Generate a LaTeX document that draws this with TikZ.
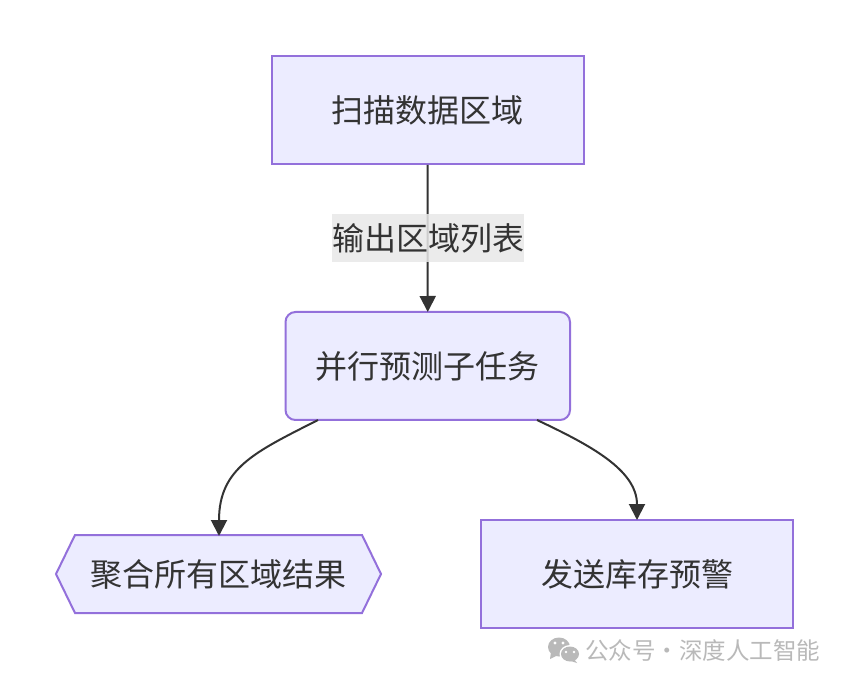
\documentclass[tikz,border=0pt]{standalone}
\usepackage{fontspec}
\setmainfont{Noto Sans CJK SC}
\usetikzlibrary{arrows.meta}
\definecolor{nodefill}{HTML}{ECECFF}
\definecolor{nodeline}{HTML}{9370DB}
\definecolor{ink}{HTML}{333333}
\definecolor{wmgray}{HTML}{B9B9B9}
\tikzset{
  x=1pt,y=-1pt,
  label text/.style={text=ink,font=\fontsize{32}{36}\selectfont,inner sep=0pt},
  flowbox/.style={draw=nodeline,fill=nodefill,line width=2pt,inner sep=0pt,minimum height=108pt,anchor=center,label text},
  flowline/.style={draw=ink,line width=2pt,-{Triangle[length=16pt,width=16pt]},shorten >=-1pt},
}
\begin{document}
\begin{tikzpicture}
\useasboundingbox (0,0) rectangle (849,684);
\fill[white] (0,0) rectangle (849,684);
% nodes
\node[flowbox,minimum width=312pt] (scan) at (427.5,110) {扫描数据区域};
\node[flowbox,minimum width=284.5pt,rounded corners=10pt] (par) at (427.75,366) {并行预测子任务};
\node[flowbox,minimum width=312pt] (warn) at (637,574) {发送库存预警};
\draw[draw=nodeline,fill=nodefill,line width=2pt,line join=miter]
  (56,574) -- (75,535) -- (362,535) -- (381,574) -- (362,613) -- (75,613) -- cycle;
\node[label text] (agg) at (218.5,574) {聚合所有区域结果};
% anchors of the curved connectors
\coordinate (parL) at (318,420);
\coordinate (parR) at (537,420);
\coordinate (aggT) at (219,535);
% connectors
\draw[flowline] (scan.south) -- (par.north);
\draw[flowline] (parL) .. controls (255,452) and (219,468) .. (aggT);
\draw[flowline] (parR) .. controls (590,445) and (637,470) .. (warn.north);
% edge label
\fill[fill={rgb,255:red,232;green,232;blue,232},fill opacity=0.85] (332,214) rectangle (524,262);
\node[label text] (edge) at (428,238) {输出区域列表};
% watermark
\fill[wmgray] (559,647) ellipse [x radius=11pt,y radius=9.5pt];
\fill[wmgray] (551,652) -- (550,659) -- (558,655) -- cycle;
\fill[white] (570,654) ellipse [x radius=10.5pt,y radius=9pt];
\fill[wmgray] (570,654) ellipse [x radius=9pt,y radius=7.5pt];
\fill[wmgray] (574,659) -- (577,663) -- (568,660) -- cycle;
\fill[white] (555,643) circle (1.6pt) (563,643) circle (1.6pt) (566,652) circle (1.3pt) (574,652) circle (1.3pt);
\node[text=wmgray,font=\fontsize{23.5}{26}\selectfont,inner sep=0pt,anchor=west] (wm) at (585,650) {公众号·深度人工智能};
\end{tikzpicture}
\end{document}
